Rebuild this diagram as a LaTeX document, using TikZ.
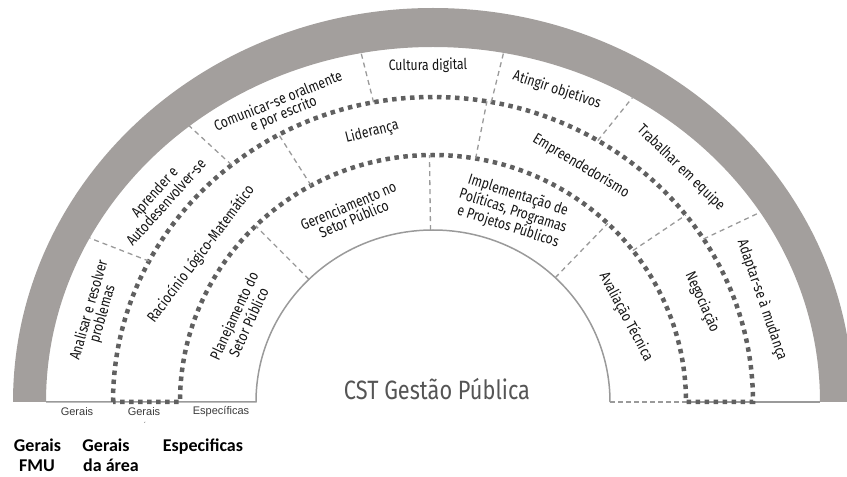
\documentclass[tikz,border=0pt]{standalone}
\usepackage{fontspec}
\setmainfont{Fira Sans}[FakeStretch=0.82]
\newfontfamily\keyfont{Carlito}
\newfontfamily\tagfont{Liberation Sans}
\definecolor{bandgray}{HTML}{A39F9D}
\definecolor{dotgray}{HTML}{606060}
\definecolor{linegray}{HTML}{9A9A9A}
\definecolor{labelblack}{HTML}{151515}
\definecolor{taggray}{HTML}{3A3A3A}
\definecolor{cstgray}{HTML}{555555}
\begin{document}
\begin{tikzpicture}
[x=1pt, y=1pt,
 bandfill/.style={fill=bandgray},
 dotband/.style={draw=dotgray, line width=4.5pt, dash pattern=on 4.5pt off 4.5pt},
 sepline/.style={draw=linegray, line width=1.3pt, dash pattern=on 5pt off 4pt},
 thinline/.style={draw=linegray, line width=1.5pt},
 ringlabel/.style={font=\fontsize{15}{14}\selectfont, text=labelblack, align=center, inner sep=0pt},
 tag/.style={font=\tagfont\fontsize{11}{12}\selectfont, text=taggray, inner sep=0pt},
 keylabel/.style={font=\keyfont\bfseries\fontsize{18}{20}\selectfont, inner sep=0pt, anchor=base}]
\useasboundingbox (0,0) rectangle (847,477);
\clip (0,0) rectangle (847,477);
\coordinate (c) at (433,75);
% outer gray band
\fill[bandfill] ([shift={(180:420pt and 394pt)}]c)
  arc[start angle=180, end angle=0, x radius=420pt, y radius=394pt]
  -- ([shift={(0:387pt and 355pt)}]c)
  arc[start angle=0, end angle=180, x radius=387pt, y radius=355pt] -- cycle;
% base line and inner arc
\draw[thinline] ([shift={(180:387pt and 355pt)}]c) -- ([shift={(180:177pt and 172pt)}]c)
  arc[start angle=180, end angle=0, x radius=177pt, y radius=172pt];
\draw[thinline, dash pattern=on 5pt off 3pt] ([shift={(0:177pt and 172pt)}]c) -- ([shift={(0:253pt and 247pt)}]c);
\draw[thinline] ([shift={(0:253pt and 247pt)}]c) -- ([shift={(0:387pt and 355pt)}]c);
% dotted ring
\draw[dotband] ([shift={(180:320pt and 305pt)}]c)
  arc[start angle=180, end angle=0, x radius=320pt, y radius=305pt]
  -- ([shift={(0:253pt and 247pt)}]c)
  arc[start angle=0, end angle=180, x radius=253pt, y radius=247pt] -- cycle;
% separators
\foreach \a in {152.5,129,100.7,79.5,59,32.3}
  \draw[sepline] ([shift={(\a:320pt and 305pt)}]c) -- ([shift={(\a:387pt and 355pt)}]c);
\foreach \a in {118.8,80.3,37.8}
  \draw[sepline] ([shift={(\a:253pt and 247pt)}]c) -- ([shift={(\a:320pt and 305pt)}]c);
\foreach \a in {134.5,90.8,46.3}
  \draw[sepline] ([shift={(\a:177pt and 172pt)}]c) -- ([shift={(\a:253pt and 247pt)}]c);
% outer ring
\node[ringlabel, rotate=74] (anal) at (96,165) {Analisar e resolver\\problemas};
\node[ringlabel, rotate=48] (apre) at (160,280) {Aprender e\\Autodesenvolver-se};
\node[ringlabel, rotate=22] (comu) at (281,369) {Comunicar-se oralmente\\e por escrito};
\node[ringlabel, rotate=1] (cult) at (428,411) {Cultura digital};
\node[ringlabel, rotate=-18] (atin) at (557,387) {Atingir objetivos};
\node[ringlabel, rotate=-44] (trab) at (681,309) {Trabalhar em equipe};
\node[ringlabel, rotate=-71] (adap) at (762,177) {Adaptar-se à mudança};
% middle ring
\node[ringlabel, rotate=53] (raci) at (201,223) {Raciocínio Lógico-Matemático};
\node[ringlabel, rotate=14] (lide) at (372,345) {Liderança};
\node[ringlabel, rotate=-31] (empr) at (581,311) {Empreendedorismo};
\node[ringlabel, rotate=-66] (nego) at (702,175) {Negociação};
% inner ring
\node[ringlabel, rotate=65] (plan) at (241,158) {Planejamento do\\Setor Público};
\node[ringlabel, rotate=23] (gere) at (351,265) {Gerenciamento no\\Setor Público};
\node[ringlabel, rotate=-18] (impl) at (513,266) {Implementação de\\Políticas, Programas\\e Projetos Públicos};
\node[ringlabel, rotate=-62] (aval) at (626,160) {Avaliação Técnica};
\node[font=\fontsize{26.5}{30}\selectfont, text=cstgray, inner sep=0pt, anchor=base] (cst) at (437,77) {CST Gestão Pública};
% tags under the base line
\node[tag] (tgera) at (77,65) {Gerais};
\node[tag] (tgerb) at (144,65) {Gerais};
\node[tag, font=\tagfont\fontsize{7}{8}\selectfont] (tacc) at (145,52) {´};
\node[tag] (tesp) at (221,65) {Específicas};
\node[keylabel] (kgera) at (37.5,25) {Gerais};
\node[keylabel] (kfmu) at (37,5) {FMU};
\node[keylabel] (kgerb) at (106,25) {Gerais};
\node[keylabel] (karea) at (111,5) {da área};
\node[keylabel] (kesp) at (203,25) {Especificas};
\end{tikzpicture}
\end{document}
